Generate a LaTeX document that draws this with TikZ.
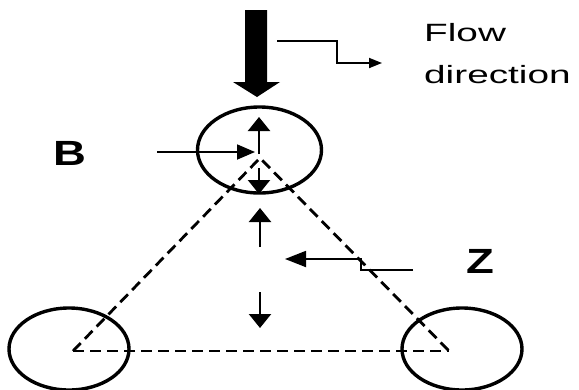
\documentclass[tikz,border=0pt]{standalone}
\usepackage{fontspec}
\setmainfont{Liberation Sans}
\usetikzlibrary{arrows.meta,shapes.geometric}
\begin{document}
\begin{tikzpicture}[x=1pt,y=-1pt,
  ring/.style={draw,line width=3.4pt,ellipse,inner sep=0pt},
  thinarrow/.style={line width=2.2pt,-{Triangle[length=14pt,width=22pt]}},
  conn/.style={line width=1.8pt},
  tri/.style={line width=2.8pt,dash pattern=on 11pt off 6pt},
  lbl/.style={font=\fontsize{25}{25}\selectfont,anchor=base west,inner sep=0pt},
  blbl/.style={font=\fontsize{35}{35}\selectfont\bfseries,anchor=base west,inner sep=0pt}]
\useasboundingbox (0,0) rectangle (579,389);
% circles
\node[ring,minimum width=124pt,minimum height=86pt] (top) at (259.5,150) {};
\node[ring,minimum width=120pt,minimum height=82pt] (bl) at (69,349) {};
\node[ring,minimum width=120pt,minimum height=82pt] (br) at (462,349) {};
% triangle
\coordinate (apex) at (260,158);
\coordinate (vl) at (73,351);
\coordinate (vr) at (449,351);
\draw[tri] (vl) -- (apex) -- (vr);
\draw[tri] (vl) -- (vr);
% big flow arrow
\fill (245,10) -- (267,10) -- (267,82) -- (280,82) -- (257,97) -- (233,82) -- (245,82) -- cycle;
\coordinate (fs) at (277,41);
\coordinate (fe) at (382,63);
\draw[conn,-{Triangle[length=13pt,width=10pt]}] (fs) -- (337,41) -- (337,63) -- (fe);
% labels
\node[lbl] (flow) at (424,41) {\scalebox{1.55}[1]{Flow}};
\node[lbl] (dir) at (424,83) {\scalebox{1.55}[1]{direction}};
\node[blbl] (B) at (53,165) {\scalebox{1.3}[1]{B}};
\node[blbl] (Z) at (466,273) {\scalebox{1.3}[1]{Z}};
% B arrow
\coordinate (bs) at (157,152);
\coordinate (be) at (255,152);
\draw[conn,-{Triangle[length=18pt,width=15pt]}] (bs) -- (be);
% arrows in top circle
\coordinate (c1) at (259,154);
\coordinate (c1t) at (259,117);
\coordinate (c2) at (259,168);
\coordinate (c2t) at (259,194);
\draw[thinarrow] (c1) -- (c1t);
\draw[thinarrow] (c2) -- (c2t);
% arrows inside triangle
\coordinate (u1) at (260,247);
\coordinate (u1t) at (260,208);
\coordinate (d1) at (260,292);
\coordinate (d1t) at (260,328);
\draw[thinarrow] (u1) -- (u1t);
\draw[thinarrow] (d1) -- (d1t);
% Z arrow
\coordinate (zs) at (413,270);
\coordinate (ze) at (285,259);
\draw[conn,-{Triangle[length=21pt,width=16pt]}] (zs) -- (361,270) -- (361,259) -- (ze);
\end{tikzpicture}
\end{document}
